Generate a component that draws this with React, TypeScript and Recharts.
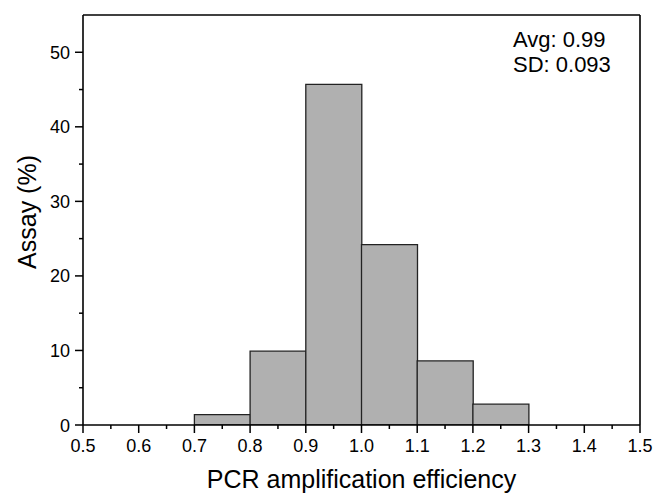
import { Bar, ComposedChart, Line, XAxis, YAxis } from 'recharts';

const binLabels = ['0.5-0.6', '0.6-0.7', '0.7-0.8', '0.8-0.9', '0.9-1.0', '1.0-1.1', '1.1-1.2', '1.2-1.3', '1.3-1.4', '1.4-1.5'];
const binMids = [0.55, 0.65, 0.75, 0.85, 0.95, 1.05, 1.15, 1.25, 1.35, 1.45];
const assayPct = [0, 0, 1.4, 9.9, 45.7, 24.2, 8.6, 2.8, 0, 0];
const xTicks = [0.5, 0.55, 0.6, 0.65, 0.7, 0.75, 0.8, 0.85, 0.9, 0.95, 1.0, 1.05, 1.1, 1.15, 1.2, 1.25, 1.3, 1.35, 1.4, 1.45, 1.5];
const yTicks = [0, 5, 10, 15, 20, 25, 30, 35, 40, 45, 50, 55];
const statLines = ['Avg: 0.99', 'SD: 0.093'];

const data = binLabels.map((bin, i) => ({ bin, mid: binMids[i], pct: assayPct[i] }));

const FONT = '"Liberation Sans", Arial, sans-serif';

function XTick(props: any) {
  const { x, y, payload } = props;
  const v = payload.value as number;
  const major = Math.abs(v * 10 - Math.round(v * 10)) < 1e-6;
  const px = Number(x);
  const py = Number(y);
  return (
    <g>
      <path d={`M${px},${py}L${px},${py + (major ? 8 : 4)}`} stroke="#000" strokeWidth={1.5} fill="none" />
      {major && (
        <text x={px} y={py + 27} textAnchor="middle" fontSize={18} fontFamily={FONT} fill="#000">
          {v.toFixed(1)}
        </text>
      )}
    </g>
  );
}

function YTick(props: any) {
  const { x, y, payload } = props;
  const v = payload.value as number;
  const major = v % 10 === 0;
  const px = Number(x);
  const py = Number(y);
  if (v === 55) return null;
  return (
    <g>
      <path d={`M${px},${py}L${px - (major ? 8 : 4)},${py}`} stroke="#000" strokeWidth={1.5} fill="none" />
      {major && (
        <text x={px - 13} y={py + 6.5} textAnchor="end" fontSize={18} fontFamily={FONT} fill="#000">
          {v}
        </text>
      )}
    </g>
  );
}

function XTitle(props: any) {
  const { viewBox } = props;
  return (
    <text x={viewBox.x + viewBox.width / 2} y={488} textAnchor="middle" fontSize={25} fontFamily={FONT} fill="#000">
      PCR amplification efficiency
    </text>
  );
}

function YTitle() {
  return (
    <text x={36} y={212} transform="rotate(-90 36 212)" textAnchor="middle" fontSize={25} fontFamily={FONT} fill="#000">
      Assay (%)
    </text>
  );
}

const frame = { stroke: '#000', strokeWidth: 1.6 };

export default function App() {
  return (
    <div style={{ position: 'absolute', left: 0, top: 0, width: 655, height: 493, background: '#fff' }}>
      <ComposedChart
        width={655}
        height={493}
        data={data}
        margin={{ top: 14, right: 14, left: 0, bottom: 0 }}
        barCategoryGap={0}
        barGap={0}
      >
        <XAxis xAxisId="bins" dataKey="bin" hide height={0} />
        <XAxis
          xAxisId="val"
          dataKey="mid"
          type="number"
          domain={[0.5, 1.5]}
          ticks={xTicks}
          allowDataOverflow
          height={68}
          tickSize={0}
          tickMargin={0}
          tickLine={false}
          tick={<XTick />}
          interval={0}
          axisLine={frame}
          label={<XTitle />}
        />
        <XAxis
          xAxisId="top"
          dataKey="mid"
          orientation="top"
          type="number"
          domain={[0.5, 1.5]}
          allowDataOverflow
          height={1}
          tick={false}
          tickLine={false}
          axisLine={frame}
        />
        <YAxis
          domain={[0, 55]}
          ticks={yTicks}
          allowDataOverflow
          interval={0}
          width={83}
          tickSize={0}
          tickMargin={0}
          tickLine={false}
          tick={<YTick />}
          axisLine={frame}
          label={<YTitle />}
        />
        <YAxis
          yAxisId="right"
          orientation="right"
          domain={[0, 55]}
          allowDataOverflow
          width={1}
          tick={false}
          tickLine={false}
          axisLine={frame}
        />
        <Bar
          xAxisId="bins"
          dataKey="pct"
          fill="#b0b0b0"
          stroke="#222"
          strokeWidth={1.3}
          isAnimationActive={false}
        />
        <Line xAxisId="val" dataKey="pct" stroke="none" dot={false} activeDot={false} isAnimationActive={false} />
        <Line xAxisId="top" yAxisId="right" dataKey="pct" stroke="none" dot={false} activeDot={false} isAnimationActive={false} />
        {statLines.map((s, i) => (
          <text key={s} x={513} y={47 + i * 25} fontSize={22} fontFamily={FONT} fill="#000">
            {s}
          </text>
        ))}
      </ComposedChart>
    </div>
  );
}
